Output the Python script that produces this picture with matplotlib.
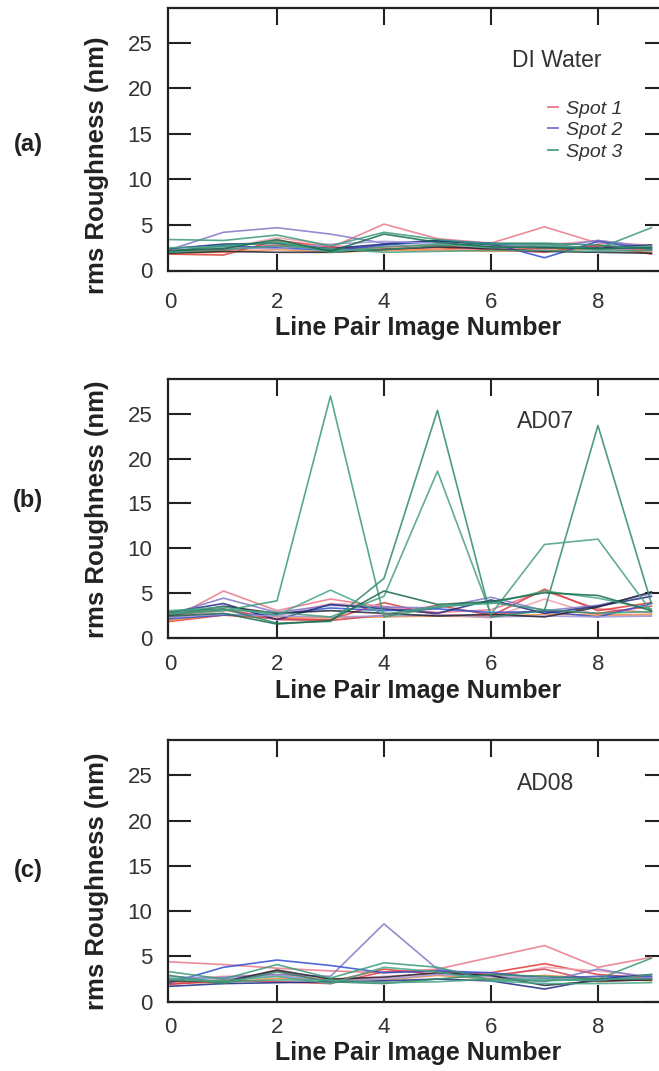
import matplotlib.pyplot as plt
from matplotlib.lines import Line2D

plt.rcParams["font.family"] = ["Liberation Sans", "DejaVu Sans"]

# x positions: line pair image number
image_number = [0, 1, 2, 3, 4, 5, 6, 7, 8, 9]

# * (a) DI Water, rms roughness in nm, one row per line
water_spot1 = [
    [2.0, 2.2, 2.6, 2.5, 5.1, 3.5, 3.0, 4.8, 3.0, 2.8],
    [1.8, 1.7, 3.3, 2.6, 2.4, 2.5, 2.3, 2.4, 2.6, 2.2],
    [2.2, 2.4, 3.6, 2.8, 2.3, 2.2, 2.5, 2.8, 3.3, 2.6],
    [1.9, 2.0, 2.3, 2.0, 2.2, 2.3, 2.1, 2.2, 2.4, 2.0],
    [2.1, 2.3, 2.8, 2.3, 2.6, 2.8, 2.3, 2.0, 2.8, 1.8],
]
water_spot2 = [
    [2.3, 4.2, 4.7, 4.0, 3.0, 3.3, 3.0, 2.5, 3.3, 2.6],
    [2.0, 2.7, 2.5, 2.2, 2.8, 3.2, 3.0, 1.4, 3.2, 2.3],
    [2.4, 2.9, 3.0, 2.4, 2.9, 3.3, 2.8, 2.6, 2.5, 2.8],
    [2.2, 2.5, 2.4, 2.9, 3.2, 3.0, 2.6, 2.9, 2.2, 2.5],
    [1.9, 2.1, 2.0, 2.0, 2.3, 2.6, 2.4, 2.1, 2.0, 1.9],
]
water_spot3 = [
    [3.4, 3.3, 3.9, 2.7, 4.2, 3.4, 2.9, 2.9, 2.4, 4.7],
    [2.1, 2.8, 3.0, 2.2, 2.3, 2.7, 3.0, 3.0, 2.8, 2.4],
    [2.5, 2.6, 3.2, 2.0, 2.6, 2.9, 2.5, 2.7, 2.3, 2.7],
    [2.0, 2.3, 2.7, 2.4, 2.0, 2.1, 2.2, 2.2, 2.1, 2.2],
    [2.2, 2.4, 3.4, 2.1, 4.0, 3.1, 2.6, 2.5, 2.4, 2.5],
]

# * (b) AD07
ad07_spot1 = [
    [2.0, 5.2, 3.0, 4.3, 3.4, 2.8, 3.1, 5.2, 3.2, 2.8],
    [1.8, 2.5, 2.1, 2.0, 3.9, 2.5, 2.4, 5.4, 3.0, 3.9],
    [2.2, 3.0, 2.4, 3.8, 3.5, 2.6, 2.2, 4.3, 2.5, 2.4],
    [1.9, 2.6, 2.3, 2.2, 2.3, 2.4, 2.3, 2.6, 2.5, 2.6],
    [2.4, 3.2, 2.0, 1.9, 2.5, 3.6, 2.5, 3.0, 2.7, 3.5],
]
ad07_spot2 = [
    [2.6, 4.4, 2.8, 3.6, 3.4, 3.3, 4.5, 3.0, 3.6, 4.9],
    [2.1, 2.5, 2.6, 3.3, 3.0, 3.2, 2.8, 2.9, 2.3, 3.8],
    [2.8, 3.8, 2.0, 3.7, 3.2, 2.7, 4.2, 2.7, 3.5, 4.6],
    [2.3, 2.6, 2.4, 2.3, 2.4, 2.5, 2.3, 2.4, 2.3, 2.4],
    [2.5, 3.5, 2.7, 3.0, 2.7, 2.4, 2.6, 2.3, 3.4, 5.1],
]
ad07_spot3 = [
    [2.6, 3.0, 4.1, 27.0, 2.3, 3.4, 3.9, 3.1, 2.7, 2.9],
    [2.9, 3.2, 1.6, 1.8, 6.6, 25.4, 2.3, 3.0, 23.7, 3.8],
    [3.0, 3.4, 2.5, 5.3, 2.6, 3.5, 3.8, 5.2, 4.4, 3.2],
    [2.7, 3.1, 2.8, 2.3, 4.6, 18.6, 2.6, 10.4, 11.0, 2.9],
    [2.4, 2.7, 1.5, 1.9, 5.2, 3.7, 4.0, 5.0, 4.7, 3.0],
]

# * (c) AD08
ad08_spot1 = [
    [4.4, 4.1, 3.7, 3.4, 3.2, 3.6, 4.9, 6.2, 3.8, 4.9],
    [2.0, 2.2, 3.4, 2.2, 3.6, 3.0, 3.2, 4.2, 3.0, 2.6],
    [2.5, 2.8, 3.0, 2.4, 2.8, 3.1, 2.6, 3.8, 3.4, 2.8],
    [2.2, 2.1, 2.6, 2.5, 2.4, 2.9, 2.5, 2.9, 2.6, 2.3],
    [1.9, 2.4, 2.2, 2.0, 3.3, 3.4, 2.9, 3.6, 2.2, 2.5],
]
ad08_spot2 = [
    [2.4, 2.7, 3.0, 2.8, 8.6, 3.6, 2.8, 2.2, 3.6, 2.6],
    [2.1, 3.8, 4.6, 4.0, 3.2, 3.4, 3.2, 2.6, 2.8, 2.8],
    [1.7, 2.0, 2.1, 2.2, 2.3, 2.5, 2.3, 1.4, 2.5, 3.0],
    [2.8, 2.5, 2.9, 2.3, 2.5, 3.0, 2.8, 2.6, 2.4, 2.6],
    [2.3, 2.2, 3.5, 2.5, 2.7, 3.2, 2.9, 1.8, 2.3, 2.4],
]
ad08_spot3 = [
    [3.3, 2.5, 4.1, 2.6, 4.3, 3.8, 2.4, 2.3, 2.5, 4.8],
    [2.9, 2.0, 3.3, 2.2, 2.0, 2.5, 3.0, 2.8, 2.5, 2.5],
    [2.6, 2.3, 2.8, 2.0, 3.8, 3.3, 2.3, 2.0, 2.0, 2.1],
    [2.4, 2.2, 2.4, 2.4, 2.1, 2.2, 2.5, 2.5, 2.3, 3.0],
]

panel_names = ["DI Water", "AD07", "AD08"]
panel_letters = ["(a)", "(b)", "(c)"]
spot_labels = ["Spot 1", "Spot 2", "Spot 3"]
x_ticks = [0, 2, 4, 6, 8]
y_ticks = [0, 5, 10, 15, 20, 25]

# * colores de cada familia de lineas
spot1_colors = ["#e8788a", "#e03a3a", "#f0a0b0", "#f09040", "#d04050"]
spot2_colors = ["#8078c8", "#3050d0", "#1a2a80", "#a098d8", "#222233"]
spot3_colors = ["#3a9a78", "#2e8a6a", "#48a888", "#4a9e80", "#1a6a4a"]
legend_colors = ["#e8788a", "#7a70c8", "#4aa080"]

W, H = 659, 1071
# top / bottom pixel rows of each axes, label centres
boxes = [(7.5, 270.5), (379, 637.5), (740, 1001.7)]
ylabel_centers = [165, 509, 881]
letter_centers = [144, 501, 870]
xtick_pads = [15.5, 12, 11]
name_pos = [(0.778, 0.80), (0.756, 0.834), (0.756, 0.832)]

fig = plt.figure(figsize=(W / 100, H / 100), dpi=100)

panels = [
    (water_spot1, water_spot2, water_spot3),
    (ad07_spot1, ad07_spot2, ad07_spot3),
    (ad08_spot1, ad08_spot2, ad08_spot3),
]

for i, spots in enumerate(panels):
    top, bottom = boxes[i]
    ax = fig.add_axes([167.5 / W, 1 - bottom / H, 500.5 / W, (bottom - top) / H])

    for lines, colores in zip(spots, [spot1_colors, spot2_colors, spot3_colors]):
        for valores, c in zip(lines, colores):
            ax.plot(image_number, valores, color=c, lw=1.2, alpha=0.85)

    ax.set_xlim(-0.047, 9.31)
    ax.set_ylim(0, 28.9)
    ax.set_xticks(x_ticks)
    ax.set_yticks(y_ticks)
    for s in ax.spines.values():
        s.set_linewidth(1.6)
        s.set_color("#222222")
    ax.tick_params(direction="in", top=True, right=True, width=1.5,
                   color="#222222", labelsize=16, labelcolor="#333333")
    ax.tick_params(axis="y", length=16.5, pad=11)
    ax.tick_params(axis="x", length=12.5, pad=xtick_pads[i])
    # * la marca en x=0 queda pegada al eje, se oculta
    t0 = ax.xaxis.get_major_ticks()[0]
    t0.tick1line.set_visible(False)
    t0.tick2line.set_visible(False)
    ax.set_xlabel("Line Pair Image Number", fontsize=18, fontweight="bold",
                  color="#222222", labelpad=2.5)

    ax.text(name_pos[i][0], name_pos[i][1], panel_names[i], transform=ax.transAxes,
            ha="center", va="center", fontsize=16.5, color="#333333")

    fig.text(97 / W, 1 - ylabel_centers[i] / H, "rms Roughness (nm)", rotation=90,
             ha="center", va="center", fontsize=18.5, fontweight="bold", color="#222222")
    fig.text(28 / W, 1 - letter_centers[i] / H, panel_letters[i], ha="center",
             va="center", fontsize=17, fontweight="bold", color="#222222")

    if i == 0:
        handles = [Line2D([], [], color=c, lw=1.3) for c in legend_colors]
        leg = ax.legend(handles, spot_labels, loc="upper left",
                        bbox_to_anchor=((548 - 167.5) / 500.5, (270.5 - 100) / 263),
                        frameon=False, handlelength=0.5, handletextpad=0.4,
                        labelspacing=0.2, borderpad=0, borderaxespad=0,
                        prop={"style": "italic", "size": 14})
        for t in leg.get_texts():
            t.set_color("#333333")

plt.savefig("out.png", dpi=100)
